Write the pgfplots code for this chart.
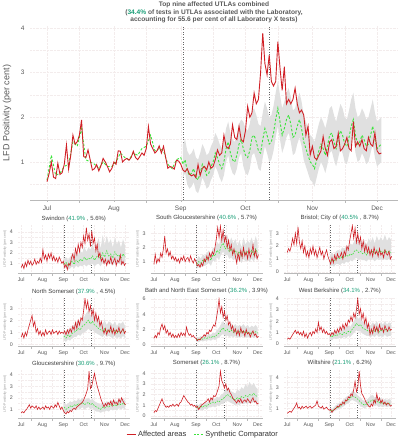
\documentclass[border=0pt]{standalone}
\usepackage{pgfplots}
\pgfplotsset{compat=1.18}
\usepackage{pgfplotstable}
\usepgfplotslibrary{fillbetween}
\usepackage{fontspec}
\setmainfont{Liberation Sans}

\definecolor{myred}{RGB}{208,32,38}
\definecolor{mygreen}{RGB}{60,228,60}
\definecolor{bandgray}{RGB}{224,224,224}
\definecolor{tealg}{RGB}{26,158,119}
\definecolor{txtgray}{RGB}{88,88,88}
\definecolor{gridc}{RGB}{243,236,236}

% ---------------- main panel band (days since 1 July) ----------------
\pgfplotstableread[row sep=\\]{d g l h\\
63 0.95 0.65 1.40\\ 64 1.05 0.75 1.50\\ 65 0.80 0.50 1.25\\ 66 0.70 0.40 1.15\\ 67 0.75 0.45 1.20\\
68 0.85 0.55 1.30\\ 69 0.65 0.35 1.10\\ 70 0.60 0.30 1.05\\ 71 0.75 0.45 1.20\\ 72 0.95 0.65 1.40\\
73 0.85 0.55 1.30\\ 74 0.70 0.40 1.15\\ 75 0.75 0.45 1.20\\ 76 0.90 0.60 1.35\\ 77 1.00 0.70 1.45\\
78 1.20 0.90 1.65\\ 79 1.10 0.80 1.55\\ 80 0.95 0.65 1.40\\ 81 0.85 0.55 1.30\\ 82 1.00 0.70 1.45\\
83 1.30 1.00 1.75\\ 84 1.45 1.15 1.90\\ 85 1.20 0.90 1.65\\ 86 1.05 0.75 1.50\\ 87 1.00 0.70 1.45\\
88 1.15 0.85 1.60\\ 89 1.40 1.10 1.85\\ 90 1.50 1.20 1.95\\ 91 1.30 0.90 1.90\\ 92 1.15 0.75 1.75\\
93 1.10 0.70 1.70\\ 94 1.25 0.85 1.85\\ 95 1.55 1.15 2.15\\ 96 1.60 1.20 2.20\\ 97 1.45 1.05 2.05\\
98 1.25 0.85 1.85\\ 99 1.20 0.80 1.80\\ 100 1.50 1.10 2.10\\ 101 1.75 1.35 2.35\\ 102 1.60 1.20 2.20\\
103 1.40 1.00 2.00\\ 104 1.45 1.05 2.05\\ 105 1.65 1.25 2.25\\ 106 1.95 1.55 2.55\\ 107 2.20 1.80 2.80\\
108 1.90 1.50 2.50\\ 109 1.60 1.20 2.20\\ 110 1.75 1.35 2.35\\ 111 1.95 1.55 2.55\\ 112 2.05 1.65 2.65\\
113 1.85 1.45 2.45\\ 114 1.55 1.15 2.15\\ 115 1.60 1.20 2.20\\ 116 1.80 1.40 2.40\\ 117 1.95 1.55 2.55\\
118 1.75 1.35 2.35\\ 119 1.45 1.05 2.05\\ 120 1.30 0.90 1.90\\ 121 1.15 0.75 1.75\\ 122 1.00 0.60 1.60\\
123 0.95 0.55 1.55\\ 124 0.85 0.45 1.45\\ 125 1.05 0.65 1.65\\ 126 1.25 0.85 1.85\\ 127 1.40 1.00 2.00\\
128 1.30 0.90 1.90\\ 129 1.15 0.75 1.75\\ 130 1.35 0.95 1.95\\ 131 1.60 1.20 2.20\\ 132 1.65 1.25 2.25\\
133 1.45 1.05 2.05\\ 134 1.30 0.90 1.90\\ 135 1.50 1.10 2.10\\ 136 1.70 1.30 2.30\\ 137 1.60 1.20 2.20\\
138 1.40 1.00 2.00\\ 139 1.35 0.95 1.95\\ 140 1.55 1.15 2.15\\ 141 1.80 1.40 2.40\\ 142 1.95 1.55 2.55\\
143 1.60 1.20 2.20\\ 144 1.40 1.00 2.00\\ 145 1.45 1.05 2.05\\ 146 1.60 1.20 2.20\\ 147 1.50 1.10 2.10\\
148 1.35 0.95 1.95\\ 149 1.40 1.00 2.00\\ 150 1.60 1.20 2.20\\ 151 1.80 1.40 2.40\\ 152 1.50 1.10 2.10\\
153 1.30 0.90 1.90\\ 154 1.35 0.95 1.95\\ 155 1.40 1.00 2.00\\
}\mainB

% ---------------- small panel synthetic comparator tables ----------------
\pgfplotstableread[row sep=\\]{d g l h\\
63 0.9 0.5 1.4\\ 66 1.1 0.6 1.6\\ 69 0.8 0.4 1.3\\ 72 1.0 0.5 1.6\\ 75 1.2 0.7 1.9\\ 78 0.9 0.5 1.5\\
81 1.3 0.8 2.1\\ 84 1.1 0.6 1.8\\ 87 1.4 0.8 2.2\\ 90 1.2 0.7 2.0\\ 93 1.6 0.9 2.6\\ 96 1.3 0.7 2.1\\
99 1.5 0.9 2.5\\ 102 1.4 0.8 2.3\\ 105 1.7 1.0 2.9\\ 108 1.3 0.7 2.2\\ 111 1.6 0.9 2.8\\ 114 1.8 1.0 3.4\\
117 1.4 0.7 2.4\\ 120 2.0 1.1 3.7\\ 123 1.6 0.9 2.7\\ 126 2.2 1.2 3.6\\ 129 1.7 0.9 2.9\\ 132 1.9 1.0 3.3\\
135 1.5 0.8 2.5\\ 138 2.1 1.1 3.5\\ 141 1.7 0.9 2.8\\ 144 1.8 1.0 3.2\\ 147 1.5 0.8 2.5\\ 150 1.9 1.0 3.3\\
153 1.6 0.9 2.7\\
}\swB
\pgfplotstableread[row sep=\\]{d g l h\\
63 0.8 0.5 1.1\\ 66 1.0 0.6 1.4\\ 69 0.9 0.6 1.2\\ 72 1.1 0.7 1.5\\ 75 1.0 0.7 1.4\\ 78 1.2 0.8 1.6\\
81 1.3 0.9 1.8\\ 84 1.1 0.7 1.5\\ 87 1.5 1.1 2.0\\ 90 1.4 1.0 1.9\\ 93 1.8 1.3 2.4\\ 96 1.6 1.1 2.2\\
99 2.1 1.5 2.8\\ 102 2.3 1.7 3.1\\ 105 1.9 1.4 2.6\\ 108 2.1 1.5 2.9\\ 111 1.7 1.2 2.3\\ 114 1.9 1.3 2.7\\
117 1.6 1.1 2.3\\ 120 1.8 1.2 2.6\\ 123 1.5 1.0 2.1\\ 126 1.7 1.2 2.5\\ 129 1.4 0.9 2.0\\ 132 1.8 1.2 2.7\\
135 1.5 1.0 2.2\\ 138 1.7 1.1 2.5\\ 141 1.6 1.0 2.3\\ 144 1.8 1.2 2.7\\ 147 1.5 1.0 2.2\\ 150 1.9 1.3 2.8\\
153 1.6 1.1 2.3\\
}\sgB
\pgfplotstableread[row sep=\\]{d g l h\\
63 0.8 0.4 1.3\\ 66 0.9 0.5 1.5\\ 69 0.8 0.4 1.3\\ 72 1.0 0.6 1.6\\ 75 1.1 0.6 1.7\\ 78 1.0 0.5 1.6\\
81 1.2 0.7 1.9\\ 84 1.1 0.6 1.8\\ 87 1.3 0.8 2.0\\ 90 1.2 0.7 1.9\\ 93 1.4 0.9 2.2\\ 96 1.3 0.8 2.1\\
99 1.6 1.0 2.4\\ 102 1.7 1.1 2.6\\ 105 1.5 0.9 2.3\\ 108 1.6 1.0 2.5\\ 111 1.4 0.9 2.2\\ 114 1.5 0.9 2.4\\
117 1.3 0.8 2.1\\ 120 1.6 1.0 2.6\\ 123 1.5 0.9 2.3\\ 126 1.6 1.0 2.7\\ 129 1.4 0.8 2.2\\ 132 1.7 1.0 2.8\\
135 1.5 0.9 2.4\\ 138 1.6 1.0 2.7\\ 141 1.5 0.9 2.4\\ 144 1.7 1.0 2.9\\ 147 1.5 0.9 2.4\\ 150 1.6 1.0 2.7\\
153 1.5 0.9 2.5\\
}\brB
\pgfplotstableread[row sep=\\]{d g l h\\
63 0.7 0.3 1.2\\ 66 0.5 0.2 1.0\\ 69 0.8 0.4 1.3\\ 72 0.6 0.3 1.1\\ 75 0.9 0.5 1.5\\ 78 1.0 0.6 1.6\\
81 1.1 0.6 1.8\\ 84 1.3 0.8 2.0\\ 87 1.2 0.7 1.8\\ 90 1.5 0.9 2.2\\ 93 1.6 1.0 2.3\\ 96 1.8 1.1 2.6\\
99 2.0 1.3 2.8\\ 102 1.7 1.1 2.4\\ 105 1.9 1.2 2.7\\ 108 1.6 1.0 2.3\\ 111 1.5 0.9 2.2\\ 114 1.3 0.8 2.0\\
117 1.2 0.7 1.8\\ 120 1.1 0.6 1.7\\ 123 1.3 0.8 2.0\\ 126 1.0 0.6 1.6\\ 129 1.2 0.7 1.9\\ 132 1.1 0.6 1.8\\
135 1.0 0.5 1.6\\ 138 1.2 0.7 1.9\\ 141 0.9 0.5 1.5\\ 144 1.1 0.6 1.8\\ 147 1.0 0.5 1.7\\ 150 1.2 0.7 1.9\\
153 0.9 0.5 1.5\\
}\nsB
\pgfplotstableread[row sep=\\]{d g l h\\
63 0.7 0.4 1.0\\ 66 0.6 0.3 0.9\\ 69 0.8 0.5 1.1\\ 72 0.7 0.4 1.0\\ 75 0.9 0.5 1.3\\ 78 0.8 0.5 1.2\\
81 1.0 0.6 1.4\\ 84 0.9 0.5 1.3\\ 87 1.1 0.7 1.6\\ 90 1.0 0.6 1.5\\ 93 1.3 0.8 1.9\\ 96 1.5 0.9 2.2\\
99 1.9 1.2 2.7\\ 102 2.2 1.4 3.1\\ 105 1.8 1.1 2.6\\ 108 2.0 1.2 2.9\\ 111 1.7 1.0 2.5\\ 114 1.9 1.1 2.8\\
117 1.6 1.0 2.4\\ 120 1.8 1.1 2.7\\ 123 1.5 0.9 2.3\\ 126 1.7 1.0 2.6\\ 129 1.6 1.0 2.4\\ 132 1.8 1.1 2.7\\
135 1.5 0.9 2.3\\ 138 1.7 1.0 2.6\\ 141 1.4 0.9 2.2\\ 144 1.6 1.0 2.5\\ 147 1.5 0.9 2.3\\ 150 1.7 1.0 2.6\\
153 1.5 0.9 2.2\\
}\bnB
\pgfplotstableread[row sep=\\]{d g l h\\
63 0.7 0.4 1.0\\ 66 0.6 0.3 0.9\\ 69 0.8 0.5 1.1\\ 72 0.7 0.4 1.0\\ 75 0.8 0.5 1.2\\ 78 0.9 0.5 1.3\\
81 0.8 0.5 1.2\\ 84 1.0 0.6 1.5\\ 87 0.9 0.5 1.4\\ 90 1.1 0.7 1.6\\ 93 1.0 0.6 1.5\\ 96 1.3 0.8 1.8\\
99 1.5 1.0 2.1\\ 102 1.8 1.2 2.5\\ 105 1.6 1.1 2.2\\ 108 1.7 1.1 2.4\\ 111 1.4 0.9 2.0\\ 114 1.3 0.8 1.9\\
117 1.2 0.7 1.8\\ 120 1.1 0.7 1.7\\ 123 1.0 0.6 1.6\\ 126 1.2 0.7 1.9\\ 129 1.1 0.6 1.7\\ 132 1.3 0.8 2.0\\
135 1.0 0.6 1.6\\ 138 1.2 0.7 1.9\\ 141 1.1 0.6 1.7\\ 144 1.3 0.8 2.0\\ 147 1.1 0.6 1.7\\ 150 1.2 0.7 1.9\\
153 1.2 0.7 1.8\\
}\wbB
\pgfplotstableread[row sep=\\]{d g l h\\
63 1.2 0.8 1.6\\ 66 1.0 0.7 1.4\\ 69 1.1 0.8 1.5\\ 72 1.3 0.9 1.7\\ 75 1.2 0.9 1.6\\ 78 1.4 1.0 1.8\\
81 1.3 0.9 1.7\\ 84 1.5 1.1 1.9\\ 87 1.4 1.0 1.8\\ 90 1.6 1.2 2.0\\ 93 1.4 1.0 1.8\\ 96 1.5 1.1 1.9\\
99 1.6 1.2 2.0\\ 102 1.4 1.0 1.8\\ 105 1.5 1.1 1.9\\ 108 1.3 0.9 1.7\\ 111 1.2 0.8 1.6\\ 114 1.1 0.8 1.5\\
117 1.0 0.7 1.4\\ 120 1.2 0.8 1.6\\ 123 1.1 0.8 1.5\\ 126 1.3 0.9 1.7\\ 129 1.2 0.8 1.6\\ 132 1.4 1.0 1.8\\
135 1.3 0.9 1.7\\ 138 1.4 1.0 1.8\\ 141 1.3 0.9 1.7\\ 144 1.5 1.1 1.9\\ 147 1.4 1.0 1.8\\ 150 1.5 1.1 1.9\\
153 1.4 1.0 1.8\\
}\glB
\pgfplotstableread[row sep=\\]{d g l h\\
63 0.8 0.5 1.1\\ 66 0.7 0.5 1.0\\ 69 0.9 0.6 1.2\\ 72 0.8 0.5 1.1\\ 75 1.0 0.7 1.3\\ 78 0.9 0.6 1.2\\
81 1.1 0.8 1.4\\ 84 1.2 0.8 1.6\\ 87 1.3 0.9 1.7\\ 90 1.2 0.8 1.6\\ 93 1.4 1.0 1.8\\ 96 1.3 0.9 1.7\\
99 1.5 1.1 2.0\\ 102 1.6 1.1 2.1\\ 105 1.8 1.3 2.4\\ 108 2.0 1.4 2.6\\ 111 1.9 1.3 2.5\\ 114 1.7 1.2 2.3\\
117 1.6 1.1 2.2\\ 120 1.5 1.0 2.1\\ 123 1.7 1.1 2.5\\ 126 1.6 1.0 2.3\\ 129 1.8 1.2 2.7\\ 132 1.7 1.1 2.5\\
135 1.9 1.2 3.0\\ 138 1.8 1.1 2.7\\ 141 2.0 1.3 3.2\\ 144 1.9 1.2 2.8\\ 147 2.1 1.3 3.1\\ 150 1.9 1.2 2.7\\
153 1.8 1.1 2.5\\
}\smB
\pgfplotstableread[row sep=\\]{d g l h\\
63 0.8 0.6 1.0\\ 66 0.7 0.5 0.9\\ 69 0.9 0.7 1.1\\ 72 1.0 0.8 1.3\\ 75 1.1 0.9 1.4\\ 78 1.2 1.0 1.5\\
81 1.4 1.1 1.7\\ 84 1.5 1.2 1.9\\ 87 1.7 1.4 2.1\\ 90 1.8 1.5 2.2\\ 93 2.0 1.7 2.4\\ 96 2.2 1.8 2.7\\
99 2.1 1.7 2.6\\ 102 2.0 1.6 2.4\\ 105 1.8 1.4 2.2\\ 108 1.6 1.2 2.0\\ 111 1.4 1.1 1.8\\ 114 1.3 1.0 1.7\\
117 1.4 1.1 1.8\\ 120 1.6 1.2 2.0\\ 123 1.7 1.3 2.2\\ 126 1.8 1.4 2.3\\ 129 1.6 1.2 2.0\\ 132 1.7 1.3 2.2\\
135 1.5 1.1 1.9\\ 138 1.6 1.2 2.0\\ 141 1.4 1.1 1.8\\ 144 1.5 1.2 1.9\\ 147 1.4 1.1 1.8\\ 150 1.5 1.2 1.9\\
153 1.4 1.1 1.8\\
}\wiB

\pgfplotsset{
 every axis title shift=0pt,
 base/.style={
  scale only axis,
  axis x line*=bottom, axis y line*=left,
  x axis line style={draw=gray!55, -},
  y axis line style={draw=none},
  xtick={0,31,62,92,123,153},
  xticklabels={Jul,Aug,Sep,Oct,Nov,Dec},
  minor xtick={15,46,77,107,138},
  xmajorgrids, ymajorgrids, xminorgrids, yminorgrids,
  major grid style={draw=gridc, densely dotted, line width=0.4pt},
  minor grid style={draw=gridc, densely dotted, line width=0.3pt},
  xtick style={draw=gray!55},
  ytick style={draw=none},
  minor tick style={draw=none},
  tick align=outside,
  ticklabel style={text=txtgray},
  /pgf/number format/assume math mode=true,
  extra x ticks={63,103},
  extra x tick labels={},
  extra x tick style={grid=major, major tick length=0pt,
    major grid style={draw=black!60, dash pattern=on 0.9pt off 1.6pt, line width=0.55pt}},
 },
 sp/.style={base, width=112pt, height=48pt, xmin=-5, xmax=160,
  xticklabel style={font=\fontsize{5.3}{5.3}\selectfont},
  yticklabel style={font=\fontsize{5.3}{5.3}\selectfont},
  major tick length=1.5pt,
  minor y tick num=1,
  title style={font=\fontsize{6}{6}\selectfont, text=black!75, at={(0.5,1)}, anchor=base, inner sep=0pt, yshift=5pt},
  ylabel={LFD Positivity (per cent)},
  ylabel style={font=\fontsize{3.5}{3.5}\selectfont, text=gray!80, at={(axis description cs:-0.115,0.5)}, anchor=center},
 },
 redl/.style={draw=myred, line width=#1, forget plot},
 grnl/.style={draw=mygreen, line width=#1, dash pattern=on 1.6pt off 1.2pt, forget plot},
}

\newcommand{\band}[1]{%
 \addplot[draw=none, name path=lo, forget plot] table[x=d,y=l]{#1};
 \addplot[draw=none, name path=hi, forget plot] table[x=d,y=h]{#1};
 \addplot[fill=bandgray, draw=none, forget plot] fill between[of=lo and hi];
 \addplot[grnl=0.6pt] table[x=d,y=g]{#1};
}

\begin{document}
\begin{tikzpicture}

\node[align=center, font=\bfseries\fontsize{6.6}{7.5}\selectfont, text=txtgray] at (214pt,427.5pt)
 {Top nine affected UTLAs combined\\(\textcolor{tealg}{34.4\%} of tests in UTLAs associated with the Laboratory,\\accounting for 55.6 per cent of all Laboratory X tests)};

% ---------------- main panel ----------------
\begin{axis}[base, at={(30pt,240pt)}, anchor=south west, width=368pt, height=174pt,
  xmin=-7.9, xmax=162.7, ymin=0.15, ymax=4.04,
  ytick={1,2,3,4}, minor ytick={0.5,1.5,2.5,3.5},
  ticklabel style={font=\fontsize{6.5}{6.5}\selectfont},
  major tick length=2pt,
  ylabel={LFD Positivity (per cent)},
  ylabel style={font=\fontsize{9}{9}\selectfont, text=txtgray, at={(axis description cs:-0.0625,0.5)}, anchor=center},
]
\addplot[draw=none, name path=lo, forget plot] table[x=d,y=l]{\mainB};
\addplot[draw=none, name path=hi, forget plot] table[x=d,y=h]{\mainB};
\addplot[fill=bandgray, draw=none, forget plot] fill between[of=lo and hi];
\addplot[draw=mygreen, line width=0.9pt, dash pattern=on 2.4pt off 1.8pt, forget plot] coordinates {
(0,0.60)(2,1.15)(4,0.70)(6,0.75)(8,0.90)(10,0.95)(12,1.45)(14,1.35)(16,1.75)(18,1.05)(20,1.00)(22,0.95)
(24,0.85)(26,1.00)(28,0.90)(30,0.90)(32,1.00)(34,1.20)(36,1.10)(38,1.05)(40,1.20)(42,1.15)(44,1.30)(46,1.35)
(48,1.60)(50,1.25)(52,1.30)(54,1.25)(56,0.95)(58,0.85)(60,1.05)(62,1.10)
(63,0.95)(64,1.05)(65,0.80)(66,0.70)(67,0.75)(68,0.85)(69,0.65)(70,0.60)(71,0.75)(72,0.95)
(73,0.85)(74,0.70)(75,0.75)(76,0.90)(77,1.00)(78,1.20)(79,1.10)(80,0.95)(81,0.85)(82,1.00)
(83,1.30)(84,1.45)(85,1.20)(86,1.05)(87,1.00)(88,1.15)(89,1.40)(90,1.50)(91,1.30)(92,1.15)
(93,1.10)(94,1.25)(95,1.55)(96,1.60)(97,1.45)(98,1.25)(99,1.20)(100,1.50)(101,1.75)(102,1.60)
(103,1.40)(104,1.45)(105,1.65)(106,1.95)(107,2.20)(108,1.90)(109,1.60)(110,1.75)(111,1.95)(112,2.05)
(113,1.85)(114,1.55)(115,1.60)(116,1.80)(117,1.95)(118,1.75)(119,1.45)(120,1.30)(121,1.15)(122,1.00)
(123,0.95)(124,0.85)(125,1.05)(126,1.25)(127,1.40)(128,1.30)(129,1.15)(130,1.35)(131,1.60)(132,1.65)
(133,1.45)(134,1.30)(135,1.50)(136,1.70)(137,1.60)(138,1.40)(139,1.35)(140,1.55)(141,1.80)(142,1.95)
(143,1.60)(144,1.40)(145,1.45)(146,1.60)(147,1.50)(148,1.35)(149,1.40)(150,1.60)(151,1.80)(152,1.50)
(153,1.30)(154,1.35)(155,1.40)};
\addplot[redl=0.9pt] coordinates {
(0,0.56)(1,0.75)(2,1.00)(3,0.66)(4,0.63)(5,0.97)(6,0.72)(7,0.76)(8,0.95)(9,1.38)
(10,0.84)(11,1.15)(12,1.60)(13,1.40)(14,1.45)(15,1.60)(16,1.94)(17,1.12)(18,1.10)(19,1.27)
(20,1.05)(21,0.82)(22,0.85)(23,0.94)(24,0.80)(25,0.92)(26,1.08)(27,1.00)(28,0.90)(29,0.78)
(30,0.85)(31,1.00)(32,0.95)(33,1.25)(34,1.24)(35,1.00)(36,1.05)(37,1.08)(38,1.04)(39,1.10)
(40,1.24)(41,1.10)(42,1.05)(43,1.12)(44,1.20)(45,1.15)(46,1.30)(47,1.79)(48,1.40)(49,1.30)
(50,1.20)(51,1.25)(52,1.36)(53,1.20)(54,1.35)(55,1.10)(56,0.86)(57,0.90)(58,0.88)(59,0.84)
(60,1.04)(61,1.02)(62,0.95)(63,0.82)(64,0.78)(65,0.85)(66,0.73)(67,0.69)(68,0.72)(69,0.65)
(70,0.94)(71,0.70)(72,0.86)(73,0.90)(74,0.82)(75,1.00)(76,0.86)(77,0.90)(78,1.05)(79,1.27)
(80,1.15)(81,1.20)(82,1.60)(83,1.35)(84,1.30)(85,1.40)(86,1.83)(87,1.55)(88,1.50)(89,1.80)
(90,1.50)(91,1.45)(92,1.70)(93,2.24)(94,2.00)(95,2.10)(96,2.54)(97,2.30)(98,2.40)(99,3.00)
(100,3.88)(101,3.20)(102,2.95)(103,3.39)(104,2.80)(105,2.70)(106,2.80)(107,3.69)(108,3.10)(109,2.60)
(110,3.13)(111,2.30)(112,2.40)(113,2.30)(114,2.40)(115,2.65)(116,2.30)(117,2.10)(118,2.16)(119,2.05)
(120,1.60)(121,1.80)(122,1.16)(123,1.35)(124,1.10)(125,1.05)(126,1.15)(127,1.25)(128,1.57)(129,1.30)
(130,1.15)(131,1.45)(132,1.50)(133,1.30)(134,1.35)(135,1.64)(136,1.25)(137,1.30)(138,1.40)(139,1.55)
(140,1.30)(141,1.25)(142,1.90)(143,1.35)(144,1.45)(145,1.35)(146,1.50)(147,1.30)(148,1.25)(149,1.55)
(150,1.40)(151,1.35)(152,1.65)(153,1.25)(154,1.18)(155,1.20)};
\end{axis}

% ---------------- row 1 ----------------
\begin{axis}[sp, at={(17.8pt,167pt)}, anchor=south west, ymin=0.08, ymax=4.65, ytick={1,2,3,4},
  title={Swindon (\textcolor{tealg}{41.9\%} , 5.6\%)}]
\band{\swB}
\addplot[redl=0.6pt] coordinates {(0,0.6)(2,0.9)(4,0.5)(6,1.1)(8,0.7)(10,1.3)(12,0.9)(14,1.2)(16,0.8)(18,1.0)(20,1.4)(22,0.9)(24,1.2)(26,1.0)(28,1.5)(30,1.1)
(32,2.3)(34,1.4)(36,1.8)(38,1.2)(40,1.9)(42,1.5)(44,2.0)(46,1.3)(48,1.7)(50,1.2)(52,1.5)(54,1.1)(56,1.6)(58,1.3)(60,1.0)
(62,1.2)(64,0.6)(66,0.9)(68,0.4)(70,1.0)(72,0.8)(74,1.5)(76,1.9)(78,1.3)(80,2.4)(82,1.8)(84,2.8)(86,2.1)(88,3.0)(90,2.5)
(92,3.6)(94,2.9)(96,4.4)(98,3.2)(100,3.8)(102,2.6)(104,4.1)(106,2.9)(108,3.4)(110,2.2)(112,2.8)(114,1.6)(116,2.0)(118,1.2)(120,1.5)
(122,1.0)(124,1.4)(126,0.8)(128,1.3)(130,1.0)(132,1.6)(134,0.9)(136,1.2)(138,1.5)(140,0.8)(142,1.3)(144,1.1)(146,1.8)(148,0.9)(150,1.2)(152,0.8)(154,1.0)};
\end{axis}

\begin{axis}[sp, at={(150.5pt,167pt)}, anchor=south west, ymin=0.2, ymax=3.58, ytick={1,2,3},
  title={South Gloucestershire (\textcolor{tealg}{40.6\%} , 5.7\%)}]
\band{\sgB}
\addplot[redl=0.6pt] coordinates {(0,0.8)(2,1.5)(4,0.9)(6,1.2)(8,1.0)(10,1.6)(12,1.3)(14,1.9)(16,2.8)(18,1.6)(20,1.9)(22,1.4)(24,1.7)(26,1.2)(28,1.4)(30,1.1)
(32,1.3)(34,1.0)(36,1.2)(38,0.9)(40,1.3)(42,1.1)(44,1.4)(46,1.0)(48,1.2)(50,1.3)(52,1.0)(54,1.4)(56,1.1)(58,0.9)(60,1.2)
(62,1.0)(64,0.7)(66,0.8)(68,0.6)(70,0.9)(72,0.7)(74,1.2)(76,1.0)(78,1.4)(80,1.1)(82,1.6)(84,1.3)(86,1.7)(88,1.5)(90,2.0)
(92,2.6)(94,3.4)(96,2.7)(98,3.5)(100,2.5)(102,3.2)(104,2.4)(106,2.8)(108,2.0)(110,2.5)(112,1.8)(114,2.2)(116,1.5)(118,1.9)(120,1.4)
(122,0.9)(124,1.6)(126,1.1)(128,1.8)(130,1.3)(132,2.0)(134,1.4)(136,1.7)(138,1.2)(140,1.9)(142,1.3)(144,1.6)(146,2.2)(148,1.4)(150,1.8)(152,1.2)(154,1.5)};
\end{axis}

\begin{axis}[sp, at={(283.8pt,167pt)}, anchor=south west, ymin=-0.1, ymax=3.65, ytick={0,1,2,3},
  title={Bristol; City of (\textcolor{tealg}{40.5\%} , 8.7\%)}]
\band{\brB}
\addplot[redl=0.6pt] coordinates {(0,1.5)(2,1.8)(4,1.6)(6,2.0)(8,2.6)(10,2.1)(12,3.0)(14,2.2)(16,3.5)(18,2.3)(20,1.8)(22,2.4)(24,1.5)(26,2.0)(28,1.2)(30,1.6)
(32,1.1)(34,1.8)(36,1.4)(38,2.0)(40,1.3)(42,1.7)(44,1.1)(46,1.5)(48,1.9)(50,1.3)(52,1.6)(54,1.0)(56,1.4)(58,1.7)(60,1.2)
(62,0.9)(64,0.6)(66,1.1)(68,0.7)(70,1.3)(72,0.9)(74,1.4)(76,1.1)(78,1.2)(80,1.5)(82,1.0)(84,1.6)(86,1.3)(88,2.0)(90,1.7)
(92,2.4)(94,3.0)(96,3.6)(98,2.6)(100,3.4)(102,2.3)(104,3.0)(106,2.2)(108,2.7)(110,1.8)(112,2.4)(114,1.6)(116,2.1)(118,1.5)(120,1.9)
(122,1.3)(124,1.7)(126,1.2)(128,1.9)(130,1.4)(132,1.6)(134,1.2)(136,1.8)(138,1.3)(140,1.5)(142,1.1)(144,1.7)(146,1.4)(148,1.3)(150,1.6)(152,1.0)(154,1.2)};
\end{axis}

% ---------------- row 2 ----------------
\begin{axis}[sp, at={(17.8pt,94pt)}, anchor=south west, ymin=-0.15, ymax=3.85, ytick={0,1,2,3},
  title={North Somerset (\textcolor{tealg}{37.9\%} , 4.5\%)}]
\band{\nsB}
\addplot[redl=0.6pt] coordinates {(0,0.6)(2,0.9)(4,0.5)(6,1.0)(8,0.7)(10,1.2)(12,1.6)(14,2.0)(16,2.4)(18,1.5)(20,1.9)(22,1.0)(24,1.3)(26,0.8)(28,1.1)(30,0.7)
(32,1.0)(34,0.7)(36,1.2)(38,0.8)(40,1.0)(42,1.1)(44,0.8)(46,1.2)(48,0.9)(50,1.0)(52,1.1)(54,0.8)(56,1.1)(58,0.9)(60,1.0)
(62,0.9)(64,1.1)(66,0.8)(68,1.2)(70,0.9)(72,1.3)(74,1.0)(76,1.5)(78,1.2)(80,1.8)(82,1.3)(84,2.0)(86,1.6)(88,2.2)(90,2.0)
(92,2.8)(94,3.8)(96,3.0)(98,3.6)(100,2.7)(102,3.2)(104,2.4)(106,2.9)(108,2.0)(110,2.6)(112,1.9)(114,2.3)(116,1.5)(118,1.9)(120,1.3)
(122,0.9)(124,1.3)(126,0.8)(128,1.2)(130,1.0)(132,1.5)(134,0.9)(136,1.3)(138,0.8)(140,1.2)(142,1.0)(144,1.4)(146,0.9)(148,1.1)(150,1.3)(152,0.9)(154,1.1)};
\end{axis}

\begin{axis}[sp, at={(150.5pt,94pt)}, anchor=south west, ymin=-0.2, ymax=6.15, ytick={0,2,4,6}, minor ytick={1,3,5},
  title={Bath and North East Somerset (\textcolor{tealg}{36.2\%} , 3.9\%)}]
\band{\bnB}
\addplot[redl=0.6pt] coordinates {(0,0.8)(2,1.2)(4,0.9)(6,1.6)(8,1.3)(10,2.2)(12,2.7)(14,2.0)(16,2.5)(18,1.5)(20,1.9)(22,1.2)(24,1.6)(26,1.0)(28,1.4)(30,0.9)
(32,1.2)(34,0.9)(36,1.4)(38,1.0)(40,1.6)(42,1.2)(44,1.5)(46,1.1)(48,2.3)(50,1.6)(52,1.2)(54,1.4)(56,1.0)(58,1.2)(60,0.9)
(62,0.8)(64,0.5)(66,0.7)(68,0.6)(70,0.9)(72,1.0)(74,1.3)(76,1.1)(78,1.6)(80,1.4)(82,1.9)(84,1.7)(86,2.2)(88,2.6)(90,2.4)
(92,3.4)(94,4.5)(96,6.0)(98,4.2)(100,5.0)(102,3.6)(104,4.4)(106,3.2)(108,3.8)(110,2.6)(112,3.0)(114,2.0)(116,2.5)(118,1.6)(120,2.1)
(122,1.3)(124,1.9)(126,1.2)(128,2.2)(130,1.5)(132,1.8)(134,1.1)(136,2.0)(138,1.4)(140,1.6)(142,1.0)(144,1.5)(146,1.8)(148,1.2)(150,1.4)(152,0.9)(154,1.1)};
\end{axis}

\begin{axis}[sp, at={(283.8pt,94pt)}, anchor=south west, ymin=-0.2, ymax=4.05, ytick={0,1,2,3,4},
  title={West Berkshire (\textcolor{tealg}{34.1\%} , 2.7\%)}]
\band{\wbB}
\addplot[redl=0.6pt] coordinates {(0,0.4)(2,0.5)(4,0.4)(6,0.6)(8,0.8)(10,1.0)(12,1.2)(14,0.9)(16,1.1)(18,0.8)(20,1.0)(22,0.7)(24,1.1)(26,0.6)(28,0.9)(30,0.5)
(32,0.8)(34,1.0)(36,0.7)(38,1.1)(40,0.9)(42,1.3)(44,1.0)(46,1.9)(48,1.2)(50,1.5)(52,1.0)(54,1.3)(56,0.9)(58,1.1)(60,0.8)
(62,0.9)(64,0.7)(66,1.0)(68,0.8)(70,1.2)(72,0.9)(74,1.3)(76,1.0)(78,1.5)(80,1.2)(82,1.7)(84,1.3)(86,1.8)(88,1.5)(90,2.1)
(92,1.9)(94,2.4)(96,2.0)(98,2.7)(100,2.3)(102,3.0)(104,4.0)(106,2.6)(108,3.1)(110,2.2)(112,2.7)(114,1.8)(116,2.3)(118,1.4)(120,1.8)
(122,0.8)(124,1.3)(126,0.9)(128,1.6)(130,1.1)(132,1.5)(134,1.0)(136,1.7)(138,1.2)(140,1.4)(142,1.0)(144,1.6)(146,1.3)(148,1.1)(150,1.5)(152,1.2)(154,1.3)};
\end{axis}

% ---------------- row 3 ----------------
\begin{axis}[sp, at={(17.8pt,22pt)}, anchor=south west, ymin=0.25, ymax=4.4, ytick={1,2,3,4},
  title={Gloucestershire (\textcolor{tealg}{30.6\%} , 9.7\%)}]
\band{\glB}
\addplot[redl=0.6pt] coordinates {(0,0.7)(2,0.8)(4,0.7)(6,0.9)(8,1.0)(10,1.2)(12,1.4)(14,1.1)(16,1.3)(18,1.2)(20,1.1)(22,1.3)(24,1.0)(26,1.2)(28,1.0)(30,1.1)
(32,1.2)(34,1.0)(36,1.3)(38,1.1)(40,1.2)(42,1.0)(44,1.3)(46,1.2)(48,1.1)(50,1.4)(52,1.2)(54,1.6)(56,1.3)(58,1.0)(60,1.2)
(62,0.9)(64,0.7)(66,0.6)(68,0.8)(70,0.7)(72,0.9)(74,0.8)(76,1.0)(78,1.1)(80,1.0)(82,1.2)(84,1.3)(86,1.4)(88,1.5)(90,1.6)
(92,1.8)(94,2.1)(96,2.4)(98,2.8)(100,4.3)(102,2.8)(104,3.0)(106,3.6)(108,4.1)(110,3.5)(112,3.0)(114,2.6)(116,2.2)(118,1.8)(120,1.5)
(122,1.2)(124,1.5)(126,1.3)(128,1.6)(130,1.4)(132,1.7)(134,1.3)(136,1.8)(138,1.5)(140,1.6)(142,1.4)(144,1.9)(146,1.6)(148,2.0)(150,1.7)(152,1.5)(154,1.4)};
\end{axis}

\begin{axis}[sp, at={(150.5pt,22pt)}, anchor=south west, ymin=-0.2, ymax=4.3, ytick={0,1,2,3,4},
  title={Somerset (\textcolor{tealg}{26.1\%} , 8.7\%)},
  legend style={at={(0.469,-0.354)}, anchor=center, draw=none, fill=none,
    font=\fontsize{7.5}{7.5}\selectfont, text=black!80, legend columns=2,
    /tikz/every even column/.append style={column sep=5pt}},
  legend image code/.code={\draw[#1] (0pt,0pt) -- (9pt,0pt);},
]
\addlegendimage{draw=myred, line width=1pt}
\addlegendentry{Affected areas}
\addlegendimage{draw=mygreen, line width=1pt, dash pattern=on 2pt off 1.4pt}
\addlegendentry{Synthetic Comparator}
\band{\smB}
\addplot[redl=0.6pt] coordinates {(0,0.3)(2,0.5)(4,0.4)(6,0.7)(8,1.0)(10,1.3)(12,1.6)(14,1.2)(16,1.0)(18,0.8)(20,0.9)(22,0.8)(24,1.0)(26,0.9)(28,1.1)(30,0.9)
(32,1.0)(34,1.1)(36,0.9)(38,1.2)(40,1.3)(42,1.6)(44,1.9)(46,1.7)(48,1.5)(50,1.3)(52,1.2)(54,1.0)(56,1.1)(58,0.9)(60,1.0)
(62,0.8)(64,0.9)(66,0.6)(68,0.8)(70,1.0)(72,1.1)(74,1.2)(76,1.3)(78,1.4)(80,1.6)(82,1.3)(84,1.7)(86,1.5)(88,1.9)(90,1.8)
(92,2.0)(94,2.4)(96,2.8)(98,4.2)(100,3.3)(102,3.0)(104,2.6)(106,3.0)(108,2.4)(110,2.6)(112,2.2)(114,2.0)(116,1.7)(118,1.5)(120,1.4)
(122,1.2)(124,1.5)(126,1.3)(128,1.6)(130,1.2)(132,1.4)(134,1.5)(136,1.3)(138,1.6)(140,1.4)(142,1.2)(144,1.5)(146,1.7)(148,1.3)(150,1.4)(152,1.1)(154,1.2)};
\end{axis}

\begin{axis}[sp, at={(283.8pt,22pt)}, anchor=south west, ymin=0.05, ymax=4.7, ytick={1,2,3,4},
  title={Wiltshire (\textcolor{tealg}{21.1\%} , 6.2\%)}]
\band{\wiB}
\addplot[redl=0.6pt] coordinates {(0,0.5)(2,0.6)(4,0.7)(6,0.6)(8,0.8)(10,1.0)(12,1.2)(14,1.5)(16,1.0)(18,1.1)(20,0.9)(22,1.2)(24,1.0)(26,1.1)(28,1.2)(30,1.0)
(32,1.1)(34,1.2)(36,1.0)(38,1.1)(40,1.2)(42,1.3)(44,1.7)(46,1.2)(48,1.1)(50,1.0)(52,1.2)(54,0.9)(56,1.0)(58,1.1)(60,0.9)
(62,0.8)(64,0.9)(66,0.6)(68,0.8)(70,0.9)(72,1.0)(74,1.2)(76,1.1)(78,1.4)(80,1.3)(82,1.6)(84,1.4)(86,1.8)(88,1.7)(90,2.1)
(92,2.0)(94,2.4)(96,2.2)(98,2.8)(100,3.6)(102,2.6)(104,3.0)(106,4.6)(108,3.2)(110,2.4)(112,2.2)(114,1.9)(116,1.6)(118,1.4)(120,1.2)
(122,1.1)(124,1.4)(126,1.2)(128,1.8)(130,1.5)(132,2.4)(134,1.7)(136,2.0)(138,1.5)(140,1.8)(142,1.4)(144,1.6)(146,1.3)(148,1.5)(150,1.4)(152,1.2)(154,1.3)};
\end{axis}

\pgfresetboundingbox
\useasboundingbox (0,0) rectangle (402pt,440pt);
\end{tikzpicture}
\end{document}
